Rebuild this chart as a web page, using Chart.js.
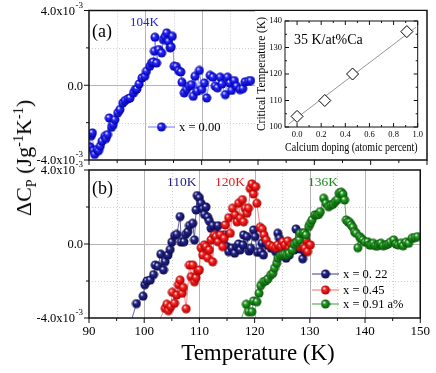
<!DOCTYPE html>
<html>
<head>
<meta charset="utf-8">
<title>Delta Cp vs Temperature</title>
<script src="https://cdn.jsdelivr.net/npm/chart.js@4.4.1/dist/chart.umd.min.js"></script>
<style>
  html, body { margin: 0; padding: 0; background: #fff; }
  #wrap { position: relative; width: 436px; height: 373px; overflow: hidden; font-family: 'Liberation Serif', 'Times New Roman', serif; }
  canvas { position: absolute; }
  #cTop, #cBot { left: 0; top: 0; }
  #cInset { left: 255px; top: 11px; background: #fff; }
  .axisTitle { position: absolute; white-space: nowrap; line-height: 1; color: #000; }
  #yTitle { left: 24px; top: 158px; font-size: 22px; transform: translate(-50%, -50%) rotate(-90deg); }
  #xTitle { left: 258px; top: 352px; font-size: 23px; transform: translate(-50%, -50%); }
  sub, sup { font-size: 65%; line-height: 0; }
</style>
</head>
<body>
<div id="wrap">
  <canvas id="cTop" width="436" height="373"></canvas>
  <canvas id="cInset" width="171" height="148"></canvas>
  <canvas id="cBot" width="436" height="373"></canvas>
  <div id="yTitle" class="axisTitle">ΔC<sub>P</sub> (Jg<sup>-1</sup>K<sup>-1</sup>)</div>
  <div id="xTitle" class="axisTitle">Temperature (K)</div>
</div>
<script>
// values in units of 1e-3 J g^-1 K^-1
const TEMP_000 = [90.2,90.4,90.6,90.8,91.0,91.4,91.7,92.0,92.3,92.8,93.0,93.3,93.6,94.0,94.3,94.6,95.1,95.5,96.0,96.4,96.9,97.3,97.9,98.2,98.5,98.9,99.4,99.9,100.2,100.8,101.1,101.4,101.6,101.7,102.0,102.4,102.9,103.2,103.5,103.8,104.1,104.4,104.6,104.8,105.1,105.5,105.9,106.3,106.5,106.9,107.3,107.8,108.2,108.5,108.8,109.2,109.6,110.0,110.5,110.9,111.5,112.0,112.4,112.8,113.3,113.6,114.2,114.6,115.0,115.3,115.8,116.2,116.8,117.3,117.7,118.3,118.7];
const DCP_000 = [-3.3,-2.7,-2.55,-3.5,-3.7,-3.44,-3.5,-3.26,-3.0,-2.73,-2.85,-2.64,-1.75,-2.25,-2.1,-1.84,-1.48,-1.3,-0.95,-0.82,-0.73,-0.68,-0.41,-0.23,-0.2,0.07,0.39,0.48,0.75,1.02,1.19,1.25,1.82,2.57,1.19,1.91,1.73,2.44,2.6,2.8,2.35,2.0,2.05,2.62,1.02,1.0,0.78,0.71,0.16,-0.41,-0.23,-0.05,0.04,-0.59,0.48,-0.32,0.79,-0.23,0.12,-0.68,0.53,0.43,-0.05,-0.14,0.43,0.07,-0.5,0.43,0.12,-0.28,0.25,-0.05,-0.23,-0.18,0.18,0.21,0.25];

const TEMP_022 = [97.5,98.6,99.8,100.1,100.5,101.1,101.7,102.0,102.5,103.0,103.5,103.8,104.3,104.7,105.0,105.5,105.9,106.5,106.7,107.2,107.5,107.9,108.2,108.8,109.1,109.4,109.6,110.0,110.3,110.6,110.9,111.2,111.5,111.8,112.1,112.4,112.7,113.0,113.4,113.7,114.3,114.6,115.0,115.3,115.9,116.4,116.8,117.1,117.4,117.9,118.0,118.6,119.0,119.3,119.8,120.1,120.5,121.1,121.3,121.6,122.3,123.0,123.8,124.2,124.5,125.1,125.7,126.3,126.6,127.2,127.5,128.2,128.7,129.1];
const DCP_022 = [-4.3,-3.22,-2.82,-2.2,-2.0,-1.95,-1.65,-1.14,-1.2,-0.55,-1.4,-0.95,-0.6,-0.3,0.1,0.45,0.52,1.48,0.1,0.12,0.52,0.66,1.0,1.12,0.22,1.84,2.62,2.5,2.2,1.9,1.6,2.0,1.45,1.24,0.85,1.0,0.4,0.58,0.99,0.31,0.12,0.5,-0.14,-0.41,-0.23,-0.5,-0.14,0.0,-0.32,-0.05,0.49,0.4,-0.38,-0.23,0.76,0.4,-0.45,-0.41,0.04,-0.59,-0.05,-0.23,-0.41,0.58,0.31,-0.56,-0.77,-0.59,-0.14,-0.32,0.81,-0.27,-0.8,-0.41];

const TEMP_045 = [102.4,103.8,104.1,104.4,104.8,105.1,105.5,105.9,106.2,106.5,106.9,107.1,107.6,108.2,108.5,108.8,109.1,109.4,109.7,110.0,110.3,110.6,110.9,111.2,111.5,111.8,112.1,112.4,112.7,113.0,113.4,113.8,114.2,114.5,114.7,115.3,115.6,116.0,116.5,116.8,117.1,117.4,117.8,118.0,118.3,118.6,118.9,119.2,119.5,119.8,120.2,120.4,121.0,121.4,121.7,122.1,122.7,123.3,123.8,124.2,124.8,125.1,125.5,126.0,126.3,126.7,127.2,127.6,128.1,128.4,128.7,129.1,129.3,129.6,130.1];
const DCP_045 = [-4.3,-3.48,-3.26,-3.6,-3.39,-2.61,-3.2,-2.76,-2.2,-1.95,-2.66,-2.35,-3.5,-1.14,-1.77,-1.14,-2.04,-1.82,-1.46,-1.4,-0.2,-0.59,-0.05,-0.14,-0.74,-0.32,0.22,-0.96,0.49,0.4,0.12,0.49,-0.14,0.31,1.03,1.42,0.58,1.93,1.57,1.2,2.2,1.39,2.4,1.2,1.93,1.66,1.93,3.0,3.25,2.7,3.1,2.2,0.9,0.8,0.49,0.22,-0.05,-0.14,-0.2,-0.05,-0.14,0.12,-0.05,0.16,-0.23,-0.05,0.04,0.1,-0.14,0.12,-0.05,-0.23,0.22,-0.41,-0.05];

const TEMP_091 = [117.3,118.5,118.9,119.5,119.8,120.4,120.8,121.1,121.6,122.0,122.4,122.9,123.3,123.6,124.0,124.2,124.6,125.0,125.4,125.8,126.2,126.8,127.2,127.6,128.1,128.2,128.7,129.0,129.3,129.8,130.1,130.4,130.9,131.3,131.6,131.9,132.5,132.9,133.4,133.8,134.2,134.6,135.0,135.3,135.7,136.0,136.3,136.6,136.9,137.2,137.5,137.8,138.1,138.4,138.7,139.0,139.3,139.6,140.0,140.5,140.8,141.1,141.5,141.9,142.3,142.6,142.9,143.3,143.8,144.2,144.6,145.2,145.6,146.0,146.5,146.9,147.4,147.9,148.5,149.0,149.5];
const DCP_091 = [-4.3,-3.26,-3.66,-3.66,-3.08,-3.12,-2.66,-2.25,-2.04,-2.0,-1.89,-1.68,-1.58,-1.31,-1.04,-0.77,-0.63,-0.59,-0.56,-0.6,-0.5,-0.32,-0.02,0.09,0.22,0.58,0.58,0.6,0.49,0.94,1.12,1.3,1.57,1.57,1.6,1.75,2.47,2.2,2.02,2.1,2.15,2.29,2.4,2.74,2.8,2.69,2.38,1.3,1.2,1.17,1.03,0.9,0.66,0.58,-0.2,0.4,0.3,0.22,0.1,0.12,-0.05,-0.05,0.04,-0.1,-0.1,0.0,0.04,-0.1,-0.05,0.0,0.1,0.22,0.0,-0.05,0.04,-0.1,0.1,0.04,0.31,0.35,0.4];

const X_TICKS = [90, 100, 110, 120, 130, 140, 150];
const X_MINOR = [95, 105, 115, 125, 135, 145];
const Y_TICKS = [-4, 0, 4];
const Y_MINOR = [-2, 2];
const Y_TICK_LABELS = ['-4.0x10', '0.0', '4.0x10'];
const Y_TICK_EXP = ['-3', '', '-3'];

// inset: critical temperature vs Ca doping
const INSET_DOPING = [0.0, 0.23, 0.46, 0.91];
const INSET_TC = [104, 110, 120, 136];
const FIT_DOPING = [-0.07, 0.985];
const FIT_TC = [101.1, 137.6];
const INSET_X_TICKS = [0.0, 0.2, 0.4, 0.6, 0.8, 1.0];
const INSET_X_MINOR = [0.1, 0.3, 0.5, 0.7, 0.9];
const INSET_Y_TICKS = [100, 110, 120, 130, 140];
const INSET_Y_MINOR = [105, 115, 125, 135];

const FONT = "'Liberation Serif', 'Times New Roman', serif";
const COLORS = {
  blue: { base: '#2a2aff', dark: '#0000a8', line: '#7474ff', text: '#2323e6' },
  navy: { base: '#262690', dark: '#0a0a48', line: '#3a3a98', text: '#1d1d88' },
  red: { base: '#ff2424', dark: '#a80000', line: '#ff6a6a', text: '#ee1c1c' },
  green: { base: '#22a022', dark: '#0a520a', line: '#3c9a3c', text: '#1a8a1a' }
};

function sphere(c, r) {
  const cv = document.createElement('canvas');
  const s = Math.ceil(r * 2 + 1);
  cv.width = s; cv.height = s;
  const g = cv.getContext('2d');
  const cx = s / 2, cy = s / 2;
  const grad = g.createRadialGradient(cx - r * 0.35, cy - r * 0.4, r * 0.05, cx, cy, r);
  grad.addColorStop(0, '#ffffff');
  grad.addColorStop(0.35, c.base);
  grad.addColorStop(1, c.dark);
  g.fillStyle = grad;
  g.beginPath();
  g.arc(cx, cy, r, 0, Math.PI * 2);
  g.fill();
  return cv;
}

const IMG = {};
Object.keys(COLORS).forEach(k => { IMG[k] = sphere(COLORS[k], 4.5); });

function series(t, v, key) {
  return {
    data: t.map((x, i) => ({ x, y: v[i] })),
    showLine: true,
    borderColor: COLORS[key].line,
    borderWidth: 0.8,
    pointStyle: IMG[key],
    pointRadius: 4.5,
    pointHoverRadius: 4.5
  };
}

function strokeLine(ctx, x1, y1, x2, y2) {
  ctx.beginPath();
  ctx.moveTo(x1, y1);
  ctx.lineTo(x2, y2);
  ctx.stroke();
}

const decor = {
  id: 'decor',
  beforeDatasetsDraw(chart, args, o) {
    if (!o.grid) return;
    const { ctx, chartArea: a, scales: { x, y } } = chart;
    ctx.save();
    ctx.lineWidth = 1;
    ctx.strokeStyle = '#cfcfcf';
    ctx.setLineDash([1, 2]);
    o.grid.xMinor.forEach(v => { const p = Math.round(x.getPixelForValue(v)) + 0.5; strokeLine(ctx, p, a.top, p, a.bottom); });
    o.grid.yMinor.forEach(v => { const p = Math.round(y.getPixelForValue(v)) + 0.5; strokeLine(ctx, a.left, p, a.right, p); });
    ctx.setLineDash([]);
    ctx.strokeStyle = '#b4b4b4';
    o.grid.xMajor.forEach(v => { const p = Math.round(x.getPixelForValue(v)) + 0.5; strokeLine(ctx, p, a.top, p, a.bottom); });
    o.grid.yMajor.forEach(v => { const p = Math.round(y.getPixelForValue(v)) + 0.5; strokeLine(ctx, a.left, p, a.right, p); });
    ctx.restore();
  },
  afterDatasetsDraw(chart, args, o) {
    const { ctx, chartArea: a, scales: { x, y } } = chart;
    ctx.save();
    if (o.frame) {
      ctx.strokeStyle = '#111';
      ctx.lineWidth = o.frame;
      ctx.strokeRect(a.left, a.top, a.right - a.left, a.bottom - a.top);
    }
    if (o.ticks) {
      const t = o.ticks;
      const d = t.dir === 'out' ? -1 : 1;
      ctx.strokeStyle = '#111';
      ctx.lineWidth = 1;
      const xt = [...t.xMajor.map(v => [v, t.major]), ...t.xMinor.map(v => [v, t.minor])];
      const yt = [...t.yMajor.map(v => [v, t.major]), ...t.yMinor.map(v => [v, t.minor])];
      t.sides.forEach(side => {
        if (side === 'bottom' || side === 'top') {
          xt.forEach(([v, len]) => {
            const p = x.getPixelForValue(v);
            if (side === 'bottom') strokeLine(ctx, p, a.bottom, p, a.bottom - d * len);
            else strokeLine(ctx, p, a.top, p, a.top + d * len);
          });
        } else {
          yt.forEach(([v, len]) => {
            const p = y.getPixelForValue(v);
            if (side === 'left') strokeLine(ctx, a.left, p, a.left + d * len, p);
            else strokeLine(ctx, a.right, p, a.right - d * len, p);
          });
        }
      });
    }
    if (o.yLabels) {
      ctx.fillStyle = '#000';
      ctx.textBaseline = 'middle';
      ctx.textAlign = 'right';
      Y_TICKS.forEach((v, i) => {
        const py = y.getPixelForValue(v) + 1;
        let right = a.left - 6;
        if (Y_TICK_EXP[i]) {
          ctx.font = `9px ${FONT}`;
          ctx.fillText(Y_TICK_EXP[i], right, py - 6);
          right -= ctx.measureText(Y_TICK_EXP[i]).width + 0.5;
        }
        ctx.font = `12.5px ${FONT}`;
        ctx.fillText(Y_TICK_LABELS[i], right, py);
      });
    }
    (o.texts || []).forEach(t => {
      ctx.font = t.font;
      ctx.fillStyle = t.color;
      ctx.textAlign = 'left';
      ctx.textBaseline = 'middle';
      ctx.fillText(t.text, t.x, t.y);
    });
    (o.legend || []).forEach(l => {
      ctx.strokeStyle = COLORS[l.key].line;
      ctx.lineWidth = 1;
      strokeLine(ctx, l.x1, l.y, l.x2, l.y);
      const img = IMG[l.key];
      ctx.drawImage(img, (l.x1 + l.x2) / 2 - img.width / 2, l.y - img.height / 2);
      ctx.font = `12.5px ${FONT}`;
      ctx.fillStyle = '#000';
      ctx.textAlign = 'left';
      ctx.textBaseline = 'middle';
      ctx.fillText(l.text, l.x2 + 4, l.y + 0.5);
    });
    ctx.restore();
  }
};
Chart.register(decor);

function mainOptions(padTop, xHeight, showXLabels, decorOpts) {
  return {
    responsive: false,
    animation: false,
    layout: { padding: { left: 0, right: 9, top: padTop, bottom: 0 } },
    plugins: { legend: { display: false }, tooltip: { enabled: false }, decor: decorOpts },
    scales: {
      x: {
        type: 'linear', min: 90, max: 150,
        afterFit: s => { s.height = xHeight; },
        afterBuildTicks: s => { s.ticks = X_TICKS.map(v => ({ value: v })); },
        grid: { display: false, drawTicks: false }, border: { display: false },
        ticks: { display: showXLabels, autoSkip: false, maxRotation: 0, padding: 6, color: '#000', font: { family: FONT, size: 13 }, callback: v => String(v) }
      },
      y: {
        type: 'linear', min: -4, max: 4,
        afterFit: s => { s.width = 89; },
        grid: { display: false, drawTicks: false }, border: { display: false },
        ticks: { display: false }
      }
    }
  };
}

const mainGrid = { xMajor: X_TICKS.slice(1, -1), xMinor: X_MINOR, yMajor: [0], yMinor: Y_MINOR };
const mainTicks = { xMajor: X_TICKS, xMinor: X_MINOR, yMajor: Y_TICKS, yMinor: Y_MINOR, dir: 'out', major: 5, minor: 3, sides: ['bottom', 'left'] };

new Chart(document.getElementById('cTop'), {
  type: 'scatter',
  data: { datasets: [series(TEMP_000, DCP_000, 'blue')] },
  options: mainOptions(10.5, 213, false, {
    grid: mainGrid, frame: 1.5, ticks: mainTicks, yLabels: true,
    texts: [
      { text: '(a)', x: 92, y: 32, font: `18px ${FONT}`, color: '#000' },
      { text: '104K', x: 130, y: 23, font: `13px ${FONT}`, color: COLORS.blue.text }
    ],
    legend: [{ key: 'blue', x1: 148, x2: 175, y: 127, text: 'x = 0.00' }]
  })
});

new Chart(document.getElementById('cBot'), {
  type: 'scatter',
  data: {
    datasets: [
      series(TEMP_091, DCP_091, 'green'),
      series(TEMP_045, DCP_045, 'red'),
      series(TEMP_022, DCP_022, 'navy')
    ]
  },
  options: mainOptions(170, 55, true, {
    grid: mainGrid, frame: 1.5, ticks: mainTicks, yLabels: true,
    texts: [
      { text: '(b)', x: 92, y: 189, font: `18px ${FONT}`, color: '#000' },
      { text: '110K', x: 167, y: 182, font: `13.5px ${FONT}`, color: COLORS.navy.text },
      { text: '120K', x: 215, y: 182, font: `13.5px ${FONT}`, color: COLORS.red.text },
      { text: '136K', x: 308, y: 182, font: `13.5px ${FONT}`, color: COLORS.green.text }
    ],
    legend: [
      { key: 'navy', x1: 312, x2: 339, y: 274, text: 'x = 0. 22' },
      { key: 'red', x1: 312, x2: 339, y: 290, text: 'x = 0.45' },
      { key: 'green', x1: 312, x2: 339, y: 304, text: 'x = 0.91 a%' }
    ]
  })
});

new Chart(document.getElementById('cInset'), {
  type: 'scatter',
  data: {
    datasets: [
      {
        data: INSET_DOPING.map((x, i) => ({ x, y: INSET_TC[i] })),
        pointStyle: 'rectRot', pointRadius: 6, pointHoverRadius: 6,
        backgroundColor: '#fff', borderColor: '#000', borderWidth: 1
      },
      {
        data: FIT_DOPING.map((x, i) => ({ x, y: FIT_TC[i] })),
        showLine: true, pointRadius: 0, borderColor: '#7a7a7a', borderWidth: 0.8
      }
    ]
  },
  options: {
    responsive: false,
    animation: false,
    layout: { padding: { left: 0, right: 6, top: 10, bottom: 0 } },
    plugins: {
      legend: { display: false }, tooltip: { enabled: false },
      decor: {
        frame: 1,
        ticks: { xMajor: INSET_X_TICKS, xMinor: INSET_X_MINOR, yMajor: INSET_Y_TICKS, yMinor: INSET_Y_MINOR, dir: 'in', major: 4, minor: 2, sides: ['bottom', 'top', 'left', 'right'] },
        texts: [{ text: '35 K/at%Ca', x: 39, y: 29, font: `14px ${FONT}`, color: '#000' }]
      }
    },
    scales: {
      x: {
        type: 'linear', min: -0.1, max: 1.0,
        afterFit: s => { s.height = 32; },
        afterBuildTicks: s => { s.ticks = INSET_X_TICKS.map(v => ({ value: v })); },
        grid: { display: false, drawTicks: false }, border: { display: false },
        ticks: { autoSkip: false, maxRotation: 0, padding: 3, color: '#000', font: { family: FONT, size: 8.5 }, callback: v => v.toFixed(1) },
        title: { display: true, text: 'Calcium doping (atomic percent)', color: '#000', font: { family: FONT, size: 11.5 }, padding: { top: 0, bottom: 4.4 } }
      },
      y: {
        type: 'linear', min: 100, max: 140,
        afterFit: s => { s.width = 30; },
        afterBuildTicks: s => { s.ticks = INSET_Y_TICKS.map(v => ({ value: v })); },
        grid: { display: false, drawTicks: false }, border: { display: false },
        ticks: { autoSkip: false, padding: 3, color: '#000', font: { family: FONT, size: 8.5 }, callback: v => String(v) },
        title: { display: true, text: 'Critical Temperature (K)', color: '#000', font: { family: FONT, size: 11.5 }, padding: { top: 0, bottom: 0 } }
      }
    }
  }
});
</script>
</body>
</html>
